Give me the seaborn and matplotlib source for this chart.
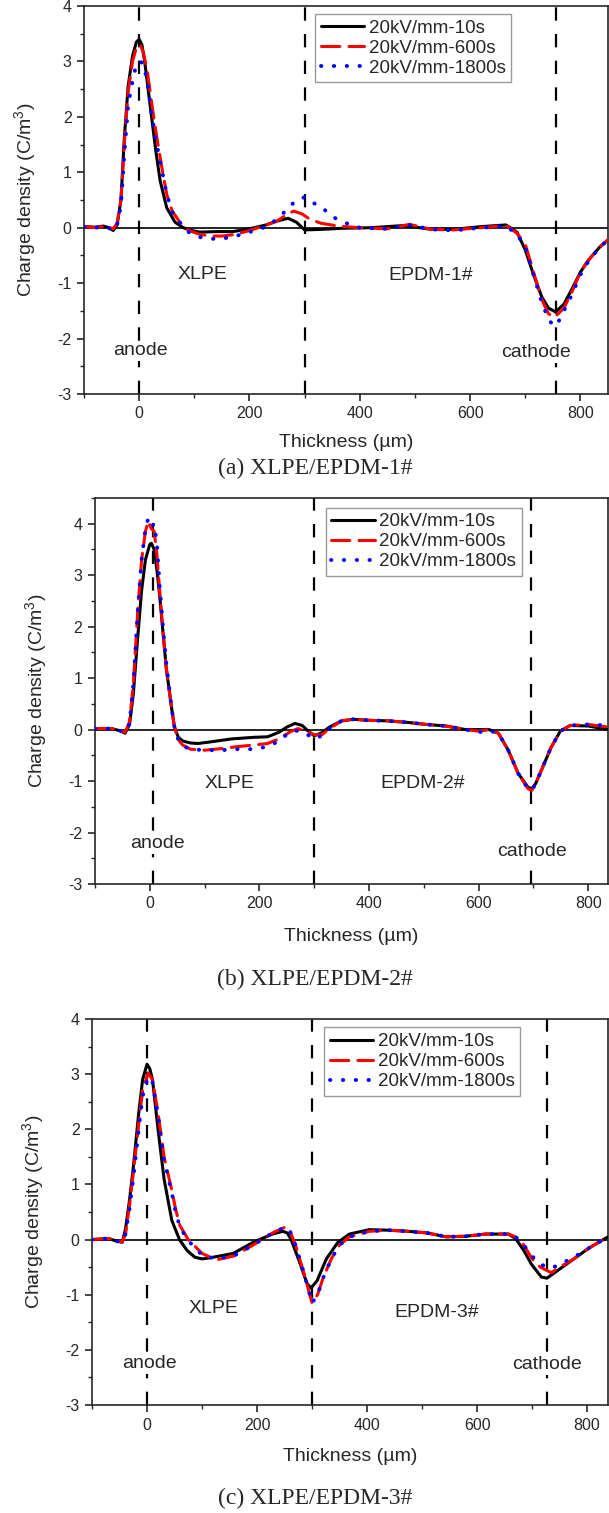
import numpy as np
import pandas as pd
import matplotlib
matplotlib.use('Agg')
import matplotlib.pyplot as plt
from matplotlib.ticker import MultipleLocator
import seaborn as sns

# ---------------- data ----------------
# panel (a) XLPE/EPDM-1#
xa_10 = [-100, -80, -65, -55, -47, -40, -33, -27, -20, -12, -5, 0, 5, 10, 15, 20, 25, 30, 38, 50, 65, 80, 95, 110,
         140, 170, 200, 230, 250, 270, 285, 300, 330, 370, 420, 480, 530, 570, 620, 665, 685, 700, 715, 730, 742,
         755, 770, 785, 800, 815, 835, 850]
ya_10 = [0.02, 0.01, 0.03, 0.0, -0.05, 0.05, 0.5, 1.6, 2.55, 3.1, 3.35, 3.4, 3.3, 3.0, 2.6, 2.2, 1.8, 1.4, 0.85, 0.36,
         0.1, 0.0, -0.05, -0.08, -0.07, -0.07, -0.02, 0.05, 0.12, 0.17, 0.1, -0.04, -0.03, -0.01, 0.0, 0.04, -0.03,
         -0.03, 0.02, 0.05, -0.08, -0.4, -0.85, -1.25, -1.45, -1.52, -1.38, -1.1, -0.8, -0.58, -0.35, -0.22]
xa_600 = [-100, -80, -60, -47, -40, -33, -27, -20, -12, -5, 2, 8, 15, 22, 30, 40, 50, 60, 75, 90, 110, 130, 150, 175,
          200, 225, 250, 265, 280, 295, 310, 330, 360, 400, 450, 490, 530, 570, 620, 665, 685, 700, 715, 730, 742,
          752, 760, 770, 785, 800, 815, 835, 850]
ya_600 = [0.02, 0.0, 0.03, -0.02, 0.08, 0.5, 1.5, 2.45, 3.0, 3.25, 3.3, 3.15, 2.8, 2.3, 1.75, 1.15, 0.6, 0.3, 0.08,
          -0.05, -0.12, -0.15, -0.15, -0.12, -0.05, 0.03, 0.12, 0.22, 0.3, 0.25, 0.15, 0.08, 0.03, 0.0, -0.02, 0.06,
          -0.03, -0.04, 0.0, 0.04, -0.1, -0.3, -0.8, -1.3, -1.55, -1.62, -1.55, -1.45, -1.15, -0.8, -0.58, -0.35, -0.22]
xa_1800 = [-100, -80, -60, -47, -40, -33, -27, -20, -12, -5, 2, 8, 15, 22, 30, 40, 50, 60, 75, 90, 110, 130, 150, 175,
           200, 225, 250, 270, 285, 300, 315, 330, 350, 370, 400, 450, 490, 530, 570, 620, 665, 685, 700, 715, 730,
           742, 752, 760, 770, 785, 800, 815, 835, 850]
ya_1800 = [0.02, 0.0, 0.02, -0.05, 0.05, 0.4, 1.3, 2.2, 2.65, 2.95, 3.0, 2.95, 2.6, 2.1, 1.6, 1.1, 0.6, 0.28, 0.08,
           -0.08, -0.17, -0.2, -0.2, -0.15, -0.08, 0.0, 0.15, 0.35, 0.5, 0.55, 0.45, 0.38, 0.2, 0.1, 0.0, -0.02, 0.05,
           -0.03, -0.05, 0.0, 0.03, -0.12, -0.35, -0.85, -1.35, -1.65, -1.78, -1.7, -1.5, -1.2, -0.85, -0.6, -0.35,
           -0.22]

# panel (b) XLPE/EPDM-2#
xb_10 = [-100, -70, -55, -45, -37, -30, -22, -15, -8, 0, 3, 8, 13, 18, 24, 30, 35, 40, 45, 52, 60, 74, 88, 110, 150,
         190, 215, 236, 250, 265, 278, 288, 300, 314, 328, 350, 371, 400, 434, 470, 505, 540, 576, 619, 636, 654,
         672, 690, 697, 704, 718, 732, 749, 767, 800, 836]
yb_10 = [0.02, 0.02, -0.02, -0.07, 0.1, 0.7, 1.8, 2.7, 3.3, 3.6, 3.62, 3.5, 3.1, 2.6, 1.9, 1.2, 0.8, 0.4, 0.05, -0.15,
         -0.22, -0.26, -0.27, -0.24, -0.18, -0.15, -0.14, -0.05, 0.05, 0.12, 0.08, -0.02, -0.12, -0.06, 0.05, 0.17,
         0.2, 0.18, 0.17, 0.14, 0.1, 0.07, 0.0, 0.0, -0.07, -0.4, -0.85, -1.12, -1.15, -1.05, -0.7, -0.35, -0.03,
         0.08, 0.07, 0.0]
xb_600 = [-100, -70, -55, -45, -37, -30, -22, -15, -8, -3, 3, 8, 13, 18, 24, 30, 35, 40, 45, 52, 60, 74, 100, 130, 160,
          190, 215, 236, 255, 270, 285, 300, 314, 328, 350, 371, 400, 434, 470, 505, 540, 576, 600, 619, 636, 654,
          672, 690, 697, 704, 718, 732, 749, 767, 800, 836]
yb_600 = [0.02, 0.02, -0.02, -0.05, 0.15, 0.9, 2.3, 3.3, 3.85, 4.05, 3.9, 3.85, 3.4, 2.7, 1.9, 1.2, 0.8, 0.4, 0.05,
          -0.2, -0.3, -0.38, -0.4, -0.37, -0.33, -0.3, -0.27, -0.18, -0.05, 0.02, -0.03, -0.1, -0.1, 0.02, 0.17, 0.2,
          0.18, 0.17, 0.14, 0.1, 0.07, 0.0, -0.03, 0.0, -0.07, -0.4, -0.85, -1.15, -1.18, -1.05, -0.7, -0.35, -0.03,
          0.08, 0.1, 0.05]
xb_1800 = xb_600
yb_1800 = [0.02, 0.02, -0.02, -0.05, 0.12, 0.9, 2.3, 3.3, 3.9, 4.1, 3.95, 4.0, 3.6, 2.8, 2.0, 1.3, 0.85, 0.4, 0.05,
           -0.2, -0.32, -0.38, -0.4, -0.4, -0.38, -0.38, -0.33, -0.22, -0.05, -0.02, -0.08, -0.18, -0.12, 0.02, 0.17,
           0.2, 0.18, 0.17, 0.14, 0.1, 0.07, 0.0, -0.05, -0.02, -0.07, -0.4, -0.85, -1.15, -1.18, -1.05, -0.7, -0.35,
           -0.03, 0.08, 0.1, 0.08]

# panel (c) XLPE/EPDM-3#
xc_10 = [-100, -70, -55, -45, -39, -32, -25, -15, -8, 0, 5, 10, 20, 31, 45, 59, 73, 87, 100, 115, 157, 193, 228, 247,
         255, 262, 277, 291, 298, 309, 326, 347, 368, 404, 439, 475, 509, 544, 579, 615, 657, 670, 685, 699, 717,
         727, 748, 776, 804, 838]
yc_10 = [0.0, 0.02, -0.03, -0.05, 0.2, 0.7, 1.3, 2.3, 2.9, 3.18, 3.1, 2.9, 2.0, 1.1, 0.35, 0.0, -0.2, -0.32, -0.35,
         -0.33, -0.25, -0.05, 0.1, 0.15, 0.12, 0.0, -0.4, -0.8, -0.88, -0.75, -0.35, -0.05, 0.1, 0.18, 0.17, 0.15,
         0.12, 0.05, 0.06, 0.1, 0.1, 0.02, -0.2, -0.45, -0.68, -0.7, -0.55, -0.35, -0.15, 0.05]
xc_600 = [-100, -70, -55, -45, -39, -32, -25, -15, -8, 2, 10, 20, 31, 45, 52, 60, 75, 100, 125, 157, 193, 228, 250,
          258, 270, 285, 300, 310, 320, 335, 350, 368, 404, 439, 475, 509, 544, 579, 615, 657, 670, 685, 700, 715,
          735, 750, 776, 804, 838]
yc_600 = [0.0, 0.02, -0.03, -0.04, 0.1, 0.6, 1.2, 2.1, 2.7, 3.02, 2.9, 2.3, 1.5, 0.9, 0.55, 0.25, 0.0, -0.25, -0.37,
          -0.3, -0.1, 0.12, 0.22, 0.2, -0.1, -0.6, -1.15, -1.0, -0.7, -0.35, -0.1, 0.05, 0.15, 0.17, 0.15, 0.12, 0.05,
          0.06, 0.1, 0.1, 0.05, -0.1, -0.35, -0.5, -0.6, -0.5, -0.35, -0.15, 0.05]
xc_1800 = xc_600
yc_1800 = [0.0, 0.02, -0.03, -0.04, 0.1, 0.55, 1.1, 2.0, 2.6, 2.95, 2.85, 2.25, 1.45, 0.85, 0.5, 0.22, -0.02, -0.28,
           -0.35, -0.3, -0.1, 0.12, 0.22, 0.2, -0.1, -0.6, -1.15, -1.0, -0.7, -0.35, -0.1, 0.05, 0.15, 0.17, 0.15,
           0.12, 0.05, 0.06, 0.1, 0.1, 0.05, -0.1, -0.3, -0.45, -0.52, -0.45, -0.32, -0.15, 0.05]

series_labels = ['20kV/mm-10s', '20kV/mm-600s', '20kV/mm-1800s']
layer_names = ['EPDM-1#', 'EPDM-2#', 'EPDM-3#']
captions = ['(a) XLPE/EPDM-1#', '(b) XLPE/EPDM-2#', '(c) XLPE/EPDM-3#']
electrode_pos = [(0, 300, 755), (5, 300, 695), (0, 300, 728)]
x_limits = [(-100, 850), (-100, 836), (-100, 838)]
y_limits = [(-3, 4), (-3, 4.5), (-3, 4)]
# text positions (data coords): XLPE, EPDM, anode, cathode
text_pos = [
    [(115, -0.84), (529, -0.86), (3, -2.22), (720, -2.26)],
    [(145, -1.05), (498, -1.05), (14, -2.22), (698, -2.37)],
    [(121, -1.25), (527, -1.32), (4, -2.25), (727, -2.27)],
]

panels = [
    [(xa_10, ya_10), (xa_600, ya_600), (xa_1800, ya_1800)],
    [(xb_10, yb_10), (xb_600, yb_600), (xb_1800, yb_1800)],
    [(xc_10, yc_10), (xc_600, yc_600), (xc_1800, yc_1800)],
]

# ---------------- style ----------------
sns.set_style('ticks')
plt.rcParams['font.family'] = ['Liberation Sans', 'DejaVu Sans']
plt.rcParams['mathtext.fontset'] = 'custom'
plt.rcParams['mathtext.rm'] = 'Liberation Sans'
plt.rcParams['mathtext.it'] = 'Liberation Sans'
plt.rcParams['axes.unicode_minus'] = False

colors = ['black', '#ff0000', '#0000ff']
styles = ['-', (0, (6, 3)), (0, (0.1, 3.2))]
widths = [2.2, 2.2, 2.8]

fig = plt.figure(figsize=(6.09, 15.13), dpi=100)
ax_rects = [
    [84 / 609, 1 - 394 / 1513, 524 / 609, 388 / 1513],
    [95 / 609, 1 - 884 / 1513, 513 / 609, 386 / 1513],
    [92 / 609, 1 - 1405 / 1513, 516 / 609, 386 / 1513],
]
caption_y = [468, 979, 1498]
xlabel_pad = [9, 12, 11]
legend_anchor = [(0.441, 0.979), (0.45, 0.975), (0.45, 0.978)]

for i in range(3):
    ax = fig.add_axes(ax_rects[i])
    for j, (xs, ys) in enumerate(panels[i]):
        df = pd.DataFrame({'x': xs, 'y': ys})
        sns.lineplot(data=df, x='x', y='y', ax=ax, color=colors[j], linestyle=styles[j],
                     linewidth=widths[j], label=series_labels[j], zorder=3 + j,
                     dash_capstyle='round', solid_capstyle='round')

    ax.axhline(0, color='black', lw=1.2, zorder=2)
    for xv in electrode_pos[i]:
        ax.axvline(xv, color='black', lw=1.6, linestyle=(0, (6, 6)), zorder=2)

    tp = text_pos[i]
    ax.text(*tp[0], 'XLPE', fontsize=14, ha='center', va='center')
    ax.text(*tp[1], layer_names[i], fontsize=14, ha='center', va='center')
    ax.text(*tp[2], 'anode', fontsize=14, ha='center', va='center',
            bbox=dict(facecolor='white', edgecolor='none', pad=1), zorder=6)
    ax.text(*tp[3], 'cathode', fontsize=14, ha='center', va='center',
            bbox=dict(facecolor='white', edgecolor='none', pad=1), zorder=6)

    ax.set_xlim(*x_limits[i])
    ax.set_ylim(*y_limits[i])
    ax.xaxis.set_major_locator(MultipleLocator(200))
    ax.xaxis.set_minor_locator(MultipleLocator(100))
    ax.set_yticks(range(-3, 5))
    ax.yaxis.set_minor_locator(MultipleLocator(0.5))
    ax.tick_params(which='major', direction='out', length=5, width=1.2, labelsize=11.5, pad=4)
    ax.tick_params(which='minor', direction='out', length=3, width=1.0)
    for sp in ax.spines.values():
        sp.set_linewidth(1.2)
    ax.set_xlabel('Thickness (µm)', fontsize=14, labelpad=xlabel_pad[i])
    ax.set_ylabel('Charge density (C/m$^3$)', fontsize=14, labelpad=14)

    leg = ax.legend(loc='upper left', bbox_to_anchor=legend_anchor[i], fontsize=13.5, frameon=True,
                    fancybox=False, edgecolor='#808080', handlelength=2.3, handletextpad=0.25,
                    labelspacing=0.15, borderpad=0.3, borderaxespad=0)
    leg.get_frame().set_linewidth(1.0)

    fig.text(315 / 609, 1 - caption_y[i] / 1513, captions[i], ha='center', va='center',
             fontsize=17, family=['Liberation Serif', 'DejaVu Serif'])

fig.savefig('out.png', dpi=100)
